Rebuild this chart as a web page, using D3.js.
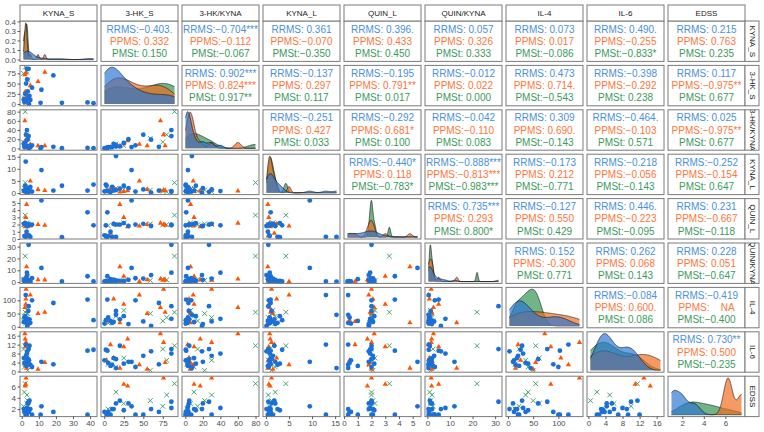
<!DOCTYPE html>
<html><head><meta charset="utf-8">
<script src="https://cdn.jsdelivr.net/npm/d3@7"></script>
<style>
body{margin:0;background:#fff}
text{font-family:"Liberation Sans",Arial,sans-serif}
</style>
</head><body>
<svg id="c" width="764" height="432"></svg>
<script>
// ---------------- data ----------------
const groups = ["RRMS", "PPMS", "PMSt"];
const varNames = ["KYNA_S", "3-HK_S", "3-HK/KYNA", "KYNA_L", "QUIN_L", "QUIN/KYNA", "IL-4", "IL-6", "EDSS"];
const N = NaN;
// each variable: [RRMS values, PPMS values, PMSt values] (same observation order within a group)
const KYNA_S = [
  [42, 38.5, 23.5, 18.5, 11.5, 11.0, 2.3, 4.0, 3.0, 2.5, 3.5, 2.0, 5.0, 1.5, 3.8, 2.8, 4.5, 1.2, 6.0, 3.2, N, 4.2],
  [2.5, 1.8, 9.5, 13.5, 5.0, 2.3, 2.8, 2.6, 2.2, 2.4, 2.0],
  [2.0, 1.0, 3.0, 3.5, 2.5, 1.5, 3.0]];
const HK_S = [
  [2, 4, 3, 70, 35, 3, N, 86, 86, 50, 31, 25, 10, 5, 15, 8, 20, 12, 40, 60, 15, 0.3],
  [76, 72, 55, 78, 45, 25, 20, 8, 3, 12, 30],
  [90, 75, 80, 59, 5, 15, 25]];
const HK_KYNA = [
  [0.5, 1.0, 0.5, 3.5, 3.0, 0.2, N, 27, 40, 30, 20, 12, 2.5, 3, 4, 3, 4.5, 10, 6.7, 19, 7.5, 0.5],
  [30, 60, 5.8, 5.8, 9, 10, 6, 2.7, 1.4, 4.3, 17],
  [80, 14, 30, 22, 2, 10, 6]];
const KYNA_L = [
  [3.5, 1.0, 3.0, 1.0, 9.5, N, 13.0, 0.5, 0.8, 1.5, 2.0, 3.0, 2.5, 0.8, 1.2, 0.4, 1.8, 1.0, 0.6, 0.1, 15.3, 0.7],
  [1.2, 0.8, 1.5, 1.0, 5.0, 0.6, 0.4, 1.8, 0.5, 2.3, 0.9],
  [4.3, 0.8, 0.5, 1.2, 0.9, 2.0, 1.5]];
const QUIN_L = [
  [1.9, 3.7, 0.25, N, 5.35, N, 0.3, 2.0, 1.9, 2.1, 1.8, 2.2, 0.3, 0.4, 2.0, 1.0, 2.0, 2.1, 2.0, 1.8, 0.3, 0.5],
  [2.0, 2.2, 2.0, 1.9, 1.8, 3.0, 4.8, 0.8, 0.4, 2.1, 1.7],
  [3.3, 1.95, 2.0, 2.1, 1.85, 2.0, 2.25]];
const QUIN_KYNA = [
  [0.6, 5, 0.6, N, 12, N, 0.6, 31.5, 8, 3, 2, 1, 0.5, 0.7, 1.5, 2.5, 1.1, 2.1, 3.3, 6, 0.5, 0.7],
  [1.7, 2.7, 2.0, 1.9, 0.6, 5.0, 13, 0.5, 0.8, 0.9, 1.9],
  [22, 2.5, 2.0, 1.5, 1.2, 1.0, 1.3]];
const IL4 = [
  [25, 103, N, 90, N, N, 120, 78, 30, 20, 10, 40, 15, 35, 60, 22, 28, 18, 100, 3, 45, 12],
  [142, 73, 50, 55, 120, 85, 15, 20, 25, 105, N],
  [55, 22, 35, 50, 14, 40, 62]];
const IL6 = [
  [9.7, 9.3, N, 3.2, 4.3, N, 12, 10, 8, 7, 4.3, 3.5, 3.0, 3.8, 5.5, 2.5, 11.5, 6.0, 2.0, 9, 1.5, 5],
  [13, 16.9, 1.0, 4.0, 3.0, 11, 1.5, 12.0, 5.0, 6.0, 14.5],
  [11.5, 10, 5, 0.5, 3.2, 2.0, 6.0]];
const EDSS = [
  [N, 1.0, N, 1.5, 2.5, 1.0, 1.0, 3.3, 2.2, 1.0, 3.0, 1.8, 2.0, 1.5, 3.0, 1.0, 3.5, 2.0, 1.0, 2.0, N, 1.5],
  [7.5, N, N, N, N, 6.4, N, N, N, N, 6.1],
  [6.5, 2.5, 4.5, 3.5, 2.0, 5.0, 3.0]];

const tickValues = [[0,10,20,30,40],[0,25,50,75],[0,20,40,60,80],[0,5,10,15],[0,1,2,3,4,5],[0,10,20,30],[0,50,100],[0,4,8,12,16],[2,4,6]];
const densityTicks = [0, 0.1, 0.2, 0.3, 0.4];

// correlation labels, upper triangle in row-major order
const corrRRMS = ["−0.403.","−0.704***","0.361","0.396.","0.057","0.073","0.490.","0.215",
 "0.902***","−0.137","−0.195","−0.012","0.473","−0.398","0.117",
 "−0.251","−0.292","−0.042","0.309","−0.464.","0.025",
 "−0.440*","−0.888***","−0.173","−0.218","−0.252",
 "0.735***","−0.127","0.446.","0.231",
 "0.152","0.262","0.228",
 "−0.084","−0.419",
 "0.730**"];
const corrPPMS = ["0.332","−0.112","−0.070","0.433","0.326","0.017","−0.255","0.763",
 "0.824***","0.297","0.791**","0.022","0.714.","−0.292","−0.975**",
 "0.427","0.681*","−0.110","0.690.","−0.103","−0.975**",
 "0.118","−0.813***","0.212","−0.056","−0.154",
 "0.293","0.550","−0.223","−0.667",
 "-0.300","0.068","0.051",
 "0.600.","NA",
 "0.500"];
const corrPMSt = ["0.150","−0.067","−0.350","0.450","0.333","−0.086","−0.833*","0.235",
 "0.917**","0.117","0.017","0.000","−0.543","0.238","0.677",
 "0.033","0.100","0.083","−0.143","0.571","0.677",
 "−0.783*","−0.983***","−0.771","−0.143","0.647",
 "0.800*","0.429","−0.095","−0.118",
 "0.771","0.143","−0.647",
 "0.086","−0.400",
 "−0.235"];

// ---------------- styling ----------------
const pointCol = {RRMS:"#1a70d6", PPMS:"#ff5500", PMSt:"#3a9a5c"};
const fillCol  = {RRMS:"#2a75d0", PPMS:"#f26a1a", PMSt:"#2e9150"};
const textCol  = {RRMS:"#4a8fe0", PPMS:"#ff7538", PMSt:"#3b9a5b"};
const drawOrder = [2, 1, 0]; // PMSt, PPMS, RRMS (alphabetical levels)

const vars = [KYNA_S, HK_S, HK_KYNA, KYNA_L, QUIN_L, QUIN_KYNA, IL4, IL6, EDSS];
const corrs = [corrRRMS, corrPPMS, corrPMSt];

const L = 20, T = 21, PW = 77, PH = 40.4, GX = 4, GY = 4;
const colX = j => L + j * (PW + GX);
const rowY = i => T + i * (PH + GY);
const nv = varNames.length;
const svg = d3.select("#c");
const borderCol = "#7a7a7a";

// domains
const ranges = vars.map(v => d3.extent(v.flat().filter(x => !isNaN(x))));
const expand = r => { const d = (r[1] - r[0]) * 0.05; return [r[0] - d, r[1] + d]; };
const xScales = ranges.map((r, j) => d3.scaleLinear().domain(expand(r)).range([colX(j), colX(j) + PW]));
const yScales = ranges.map((r, i) => d3.scaleLinear().domain(expand(r)).range([rowY(i) + PH, rowY(i)]));

// density helpers
function kde(vals, grid) {
  const s = vals.slice().sort(d3.ascending);
  const n = s.length;
  const sd = d3.deviation(s);
  const iqr = d3.quantile(s, 0.75) - d3.quantile(s, 0.25);
  let lo = Math.min(sd, iqr / 1.34);
  if (!(lo > 0)) lo = sd || Math.abs(s[0]) || 1;
  const bw = 0.9 * lo * Math.pow(n, -0.2);
  const c = 1 / (n * bw * Math.sqrt(2 * Math.PI));
  return grid.map(x => [x, c * d3.sum(s, v => Math.exp(-0.5 * ((x - v) / bw) ** 2))]);
}
const densities = vars.map((v, k) => {
  const r = ranges[k];
  const grid = d3.range(512).map(t => r[0] + (r[1] - r[0]) * t / 511);
  return v.map(g => {
    const vals = g.filter(x => !isNaN(x));
    return vals.length > 1 ? kde(vals, grid) : null;
  });
});
const densY = densities.map((ds, k) => {
  const m = d3.max(ds.filter(d => d).map(d => d3.max(d, p => p[1])));
  return d3.scaleLinear().domain([-0.05 * m, 1.05 * m]).range([rowY(k) + PH, rowY(k)]);
});

// ---------------- panels ----------------
let upperIdx = 0;
const defs = svg.append("defs");
const triPath = d3.symbol(d3.symbolTriangle, 12)();
for (let i = 0; i < nv; i++) {
  for (let j = 0; j < nv; j++) {
    const x0 = colX(j), y0 = rowY(i);
    const cid = "clip" + i + "_" + j;
    defs.append("clipPath").attr("id", cid).append("rect").attr("x", x0).attr("y", y0).attr("width", PW).attr("height", PH);
    const g = svg.append("g");
    const inner = g.append("g").attr("clip-path", "url(#" + cid + ")");
    if (i === j) {
      const xs = xScales[j], ys = densY[i];
      const area = d3.area().x(d => xs(d[0])).y0(ys(0)).y1(d => ys(d[1]));
      const line = d3.line().x(d => xs(d[0])).y(d => ys(d[1]));
      drawOrder.forEach(gi => {
        const d = densities[i][gi];
        if (!d) return;
        inner.append("path").attr("d", area(d)).attr("fill", fillCol[groups[gi]]).attr("fill-opacity", 0.68);
        inner.append("path").attr("d", line(d)).attr("fill", "none").attr("stroke", "#111").attr("stroke-width", 0.6);
      });
    } else if (i > j) {
      const xs = xScales[j], ys = yScales[i];
      drawOrder.forEach(gi => {
        const gx = vars[j][gi], gy = vars[i][gi];
        const pts = gx.map((v, k) => [v, gy[k]]).filter(p => !isNaN(p[0]) && !isNaN(p[1]));
        const gname = groups[gi];
        pts.forEach(p => {
          const px = xs(p[0]), py = ys(p[1]);
          if (gname === "RRMS") {
            inner.append("circle").attr("cx", px).attr("cy", py).attr("r", 2.4).attr("fill", pointCol.RRMS);
          } else if (gname === "PPMS") {
            inner.append("path").attr("d", triPath)
              .attr("transform", `translate(${px},${py})`).attr("fill", pointCol.PPMS);
          } else {
            const s = 2.4;
            inner.append("path").attr("d", `M${px-s},${py-s}L${px+s},${py+s}M${px-s},${py+s}L${px+s},${py-s}`)
              .attr("stroke", pointCol.PMSt).attr("stroke-width", 0.9).attr("fill", "none");
          }
        });
      });
    } else {
      const cx = x0 + PW / 2, cy = y0 + PH / 2;
      groups.forEach((gname, gi) => {
        const v = corrs[gi][upperIdx];
        let label;
        if (v === "NA") label = gname + ":    NA";
        else if (v.startsWith("−")) label = gname + ":" + v;
        else label = gname + ": " + v;
        g.append("text").attr("x", cx).attr("y", cy + (gi - 1) * 12.2)
          .attr("text-anchor", "middle").attr("dominant-baseline", "central")
          .attr("font-size", 10).attr("fill", textCol[gname]).style("white-space", "pre")
          .text(label);
      });
      upperIdx++;
    }
    g.append("rect").attr("x", x0).attr("y", y0).attr("width", PW).attr("height", PH)
      .attr("fill", "none").attr("stroke", borderCol).attr("stroke-width", 1);
  }
}

// ---------------- strips ----------------
varNames.forEach((name, j) => {
  const x0 = colX(j);
  svg.append("rect").attr("x", x0).attr("y", 5).attr("width", PW).attr("height", T - 5)
    .attr("fill", "#fff").attr("stroke", borderCol).attr("stroke-width", 1);
  svg.append("text").attr("x", x0 + PW / 2).attr("y", (5 + T) / 2).attr("text-anchor", "middle")
    .attr("dominant-baseline", "central").attr("font-size", 8).attr("fill", "#1a1a1a").text(name);
});
const SX = colX(nv - 1) + PW, SW = 14;
varNames.forEach((name, i) => {
  const y0 = rowY(i);
  const cid = "sclip" + i;
  defs.append("clipPath").attr("id", cid).append("rect").attr("x", SX).attr("y", y0).attr("width", SW).attr("height", PH);
  svg.append("rect").attr("x", SX).attr("y", y0).attr("width", SW).attr("height", PH)
    .attr("fill", "#fff").attr("stroke", borderCol).attr("stroke-width", 1);
  svg.append("g").attr("clip-path", "url(#" + cid + ")").append("text")
    .attr("transform", `translate(${SX + SW / 2},${y0 + PH / 2}) rotate(90)`)
    .attr("text-anchor", "middle").attr("dominant-baseline", "central")
    .attr("font-size", 8).attr("fill", "#1a1a1a").text(name);
});

// ---------------- axes ----------------
function styleAxis(sel, fs) {
  sel.select(".domain").remove();
  sel.selectAll(".tick line").attr("stroke", "#333").attr("stroke-width", 0.8);
  sel.selectAll(".tick text").attr("fill", "#4d4d4d").attr("font-size", fs)
    .attr("font-family", '"Liberation Sans",Arial,sans-serif');
}
for (let i = 0; i < nv; i++) {
  let sc, tv, fmt;
  if (i === 0) { sc = densY[0]; tv = densityTicks; fmt = d3.format(".1f"); }
  else { sc = yScales[i]; tv = tickValues[i]; fmt = d3.format("d"); }
  const dom = sc.domain();
  tv = tv.filter(t => t >= Math.min(...dom) && t <= Math.max(...dom));
  const fs = i === 4 ? 7 : 8;
  svg.append("g").attr("transform", `translate(${L},0)`)
    .call(d3.axisLeft(sc).tickValues(tv).tickFormat(fmt).tickSize(2.5).tickPadding(1.5))
    .call(styleAxis, fs);
}
for (let j = 0; j < nv; j++) {
  const sc = xScales[j];
  const dom = sc.domain();
  const tv = tickValues[j].filter(t => t >= dom[0] && t <= dom[1]);
  svg.append("g").attr("transform", `translate(0,${rowY(nv - 1) + PH})`)
    .call(d3.axisBottom(sc).tickValues(tv).tickFormat(d3.format("d")).tickSize(2.5).tickPadding(1.5))
    .call(styleAxis, 8);
}
</script>
</body></html>
